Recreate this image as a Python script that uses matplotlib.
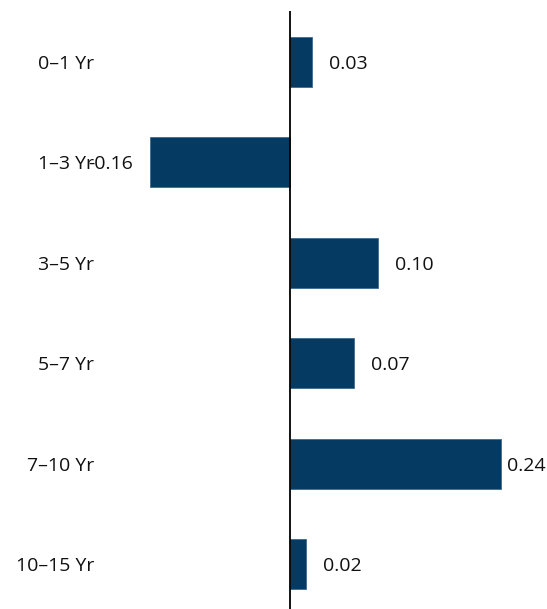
import matplotlib
matplotlib.use("Agg")
import matplotlib.pyplot as plt

categories = ["0\u20131 Yr", "1\u20133 Yr", "3\u20135 Yr", "5\u20137 Yr", "7\u201310 Yr", "10\u201315 Yr"]
values = [0.025, -0.16, 0.10, 0.073, 0.241, 0.018]
labels = ["0.03", "-0.16", "0.10", "0.07", "0.24", "0.02"]

plt.rcParams['font.family'] = ['Open Sans', 'DejaVu Sans']

W, H = 547, 609
fig = plt.figure(figsize=(W / 100, H / 100), dpi=100)
left_px, right_px, top_px, bottom_px = 100, 547, 11, 609
ax = fig.add_axes([left_px / W, 1 - bottom_px / H, (right_px - left_px) / W, (bottom_px - top_px) / H])

scale = 875.0  # px per unit
zero_px = 290
xmin = -(zero_px - left_px) / scale
xmax = (right_px - zero_px) / scale
ax.set_xlim(xmin, xmax)
ax.set_ylim(5.447, -0.507)

color = "#053a63"
fs = 14
y = list(range(len(categories)))
ax.barh(y, values, height=0.5, color=color, edgecolor="#3d6a92", linewidth=0.6, zorder=2)
ax.axvline(0, color="black", linewidth=1.3, zorder=3)

off = 17 / scale
wtxt = 42 / scale
for yi, v, lab in zip(y, values, labels):
    if v >= 0:
        x = v + off
        if x + wtxt > xmax:
            ax.text(xmax - 1 / scale, yi, lab, ha="right", va="center_baseline", fontsize=fs, color="#111111")
        else:
            ax.text(x, yi, lab, ha="left", va="center_baseline", fontsize=fs, color="#111111")
    else:
        ax.text(v - off, yi, lab, ha="right", va="center_baseline", fontsize=fs, color="#111111")

for spine in ax.spines.values():
    spine.set_visible(False)
ax.set_xticks([])
ax.set_yticks(y)
ax.set_yticklabels(categories, fontsize=fs, color="#111111")
ax.tick_params(axis="y", length=0, pad=4)

fig.savefig("out.png", dpi=100)
